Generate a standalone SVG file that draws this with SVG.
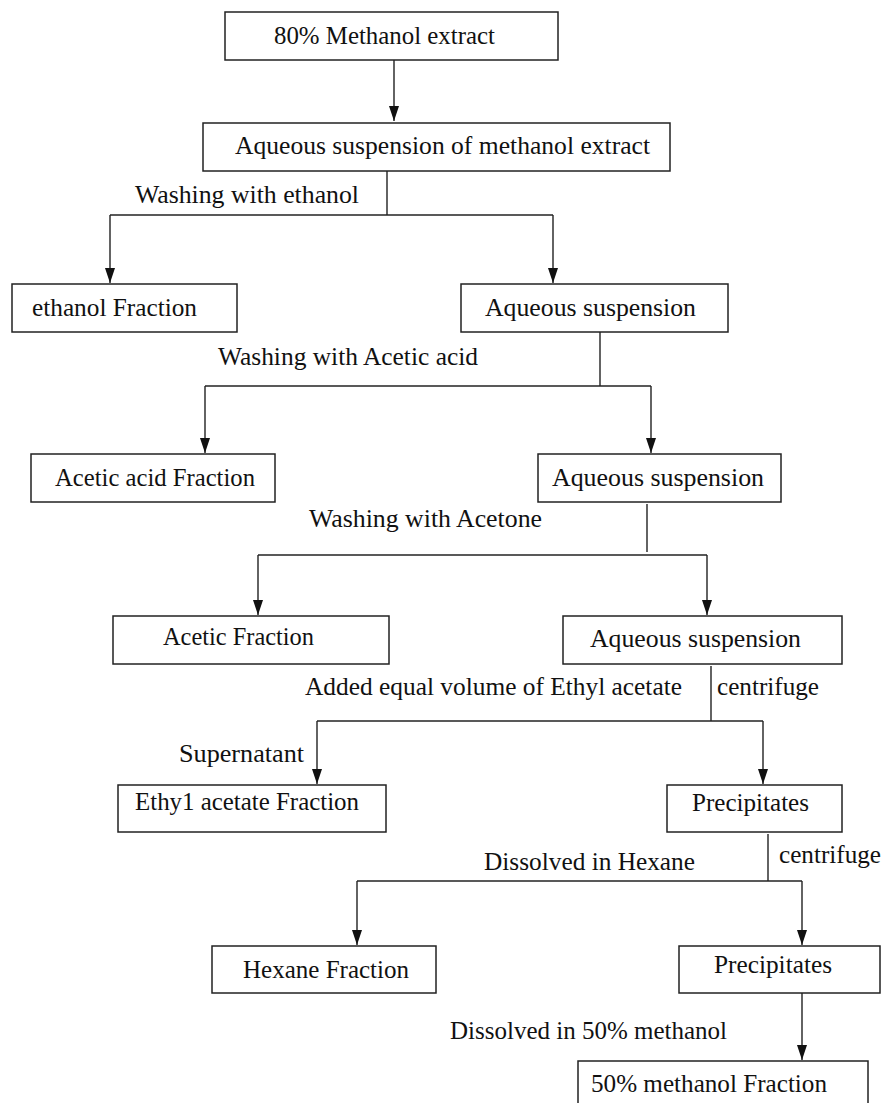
<svg xmlns="http://www.w3.org/2000/svg" width="882" height="1103" viewBox="0 0 882 1103">
<style>
.box{fill:#fff;stroke:#222;stroke-width:1.5}
.t{font-family:"Liberation Serif","Times New Roman",serif;font-size:25px;fill:#111}
.c{fill:none;stroke:#222;stroke-width:1.4}
</style>
<defs>
<marker id="ah" markerUnits="userSpaceOnUse" markerWidth="16" markerHeight="10" refX="15" refY="5" orient="auto">
<path d="M0,0 L15,5 L0,10 z" fill="#111"/>
</marker>
</defs>
<rect width="882" height="1103" fill="#fff"/>
<g id="connectors">
<path class="c" d="M394,60 V121" marker-end="url(#ah)"/>
<path class="c" d="M387,171 V215"/>
<path class="c" d="M110,215 H553"/>
<path class="c" d="M110,215 V283" marker-end="url(#ah)"/>
<path class="c" d="M553,215 V283" marker-end="url(#ah)"/>
<path class="c" d="M600,332 V386"/>
<path class="c" d="M205,386 H651"/>
<path class="c" d="M205,386 V453" marker-end="url(#ah)"/>
<path class="c" d="M651,386 V453" marker-end="url(#ah)"/>
<path class="c" d="M647,504 V552"/>
<path class="c" d="M258,555 H707"/>
<path class="c" d="M258,555 V615" marker-end="url(#ah)"/>
<path class="c" d="M707,555 V615" marker-end="url(#ah)"/>
<path class="c" d="M711,666 V721"/>
<path class="c" d="M317,721 H763"/>
<path class="c" d="M317,721 V784" marker-end="url(#ah)"/>
<path class="c" d="M763,721 V784" marker-end="url(#ah)"/>
<path class="c" d="M768,834 V881"/>
<path class="c" d="M357,881 H802"/>
<path class="c" d="M357,881 V945" marker-end="url(#ah)"/>
<path class="c" d="M802,881 V945" marker-end="url(#ah)"/>
<path class="c" d="M802,993 V1060" marker-end="url(#ah)"/>
</g>
<g id="labels">
<text class="t" x="135" y="203" textLength="224" lengthAdjust="spacingAndGlyphs">Washing with ethanol</text>
<text class="t" x="218" y="365" textLength="260" lengthAdjust="spacingAndGlyphs">Washing with Acetic acid</text>
<text class="t" x="309" y="527" textLength="233" lengthAdjust="spacingAndGlyphs">Washing with Acetone</text>
<text class="t" x="305" y="695" textLength="377" lengthAdjust="spacingAndGlyphs">Added equal volume of Ethyl acetate</text>
<text class="t" x="717" y="695" textLength="102" lengthAdjust="spacingAndGlyphs">centrifuge</text>
<text class="t" x="179" y="762" textLength="125" lengthAdjust="spacingAndGlyphs">Supernatant</text>
<text class="t" x="484" y="870" textLength="211" lengthAdjust="spacingAndGlyphs">Dissolved in Hexane</text>
<text class="t" x="779" y="863" textLength="102" lengthAdjust="spacingAndGlyphs">centrifuge</text>
<text class="t" x="450" y="1039" textLength="277" lengthAdjust="spacingAndGlyphs">Dissolved in 50% methanol</text>
</g>
<g id="n1"><rect class="box" x="225" y="12" width="333" height="48"/><text class="t" x="274" y="44" textLength="221" lengthAdjust="spacingAndGlyphs">80% Methanol extract</text></g>
<g id="n2"><rect class="box" x="203" y="123" width="467" height="48"/><text class="t" x="235" y="154" textLength="415" lengthAdjust="spacingAndGlyphs">Aqueous suspension of methanol extract</text></g>
<g id="n3"><rect class="box" x="12" y="284" width="225" height="48"/><text class="t" x="32" y="316" textLength="165" lengthAdjust="spacingAndGlyphs">ethanol Fraction</text></g>
<g id="n4"><rect class="box" x="461" y="284" width="267" height="48"/><text class="t" x="485" y="316" textLength="211" lengthAdjust="spacingAndGlyphs">Aqueous suspension</text></g>
<g id="n5"><rect class="box" x="31" y="454" width="244" height="48"/><text class="t" x="55" y="486" textLength="200" lengthAdjust="spacingAndGlyphs">Acetic acid Fraction</text></g>
<g id="n6"><rect class="box" x="538" y="454" width="243" height="48"/><text class="t" x="552" y="486" textLength="212" lengthAdjust="spacingAndGlyphs">Aqueous suspension</text></g>
<g id="n7"><rect class="box" x="113" y="616" width="276" height="48"/><text class="t" x="163" y="645" textLength="151" lengthAdjust="spacingAndGlyphs">Acetic Fraction</text></g>
<g id="n8"><rect class="box" x="563" y="616" width="279" height="48"/><text class="t" x="590" y="647" textLength="211" lengthAdjust="spacingAndGlyphs">Aqueous suspension</text></g>
<g id="n9"><rect class="box" x="118" y="785" width="268" height="47"/><text class="t" x="135" y="810" textLength="224" lengthAdjust="spacingAndGlyphs">Ethy1 acetate Fraction</text></g>
<g id="n10"><rect class="box" x="667" y="785" width="175" height="47"/><text class="t" x="692" y="811" textLength="117" lengthAdjust="spacingAndGlyphs">Precipitates</text></g>
<g id="n11"><rect class="box" x="212" y="946" width="224" height="47"/><text class="t" x="243" y="978" textLength="166" lengthAdjust="spacingAndGlyphs">Hexane Fraction</text></g>
<g id="n12"><rect class="box" x="679" y="946" width="201" height="47"/><text class="t" x="714" y="973" textLength="118" lengthAdjust="spacingAndGlyphs">Precipitates</text></g>
<g id="n13"><rect class="box" x="578" y="1061" width="290" height="60"/><text class="t" x="591" y="1092" textLength="236" lengthAdjust="spacingAndGlyphs">50% methanol Fraction</text></g>
</svg>
